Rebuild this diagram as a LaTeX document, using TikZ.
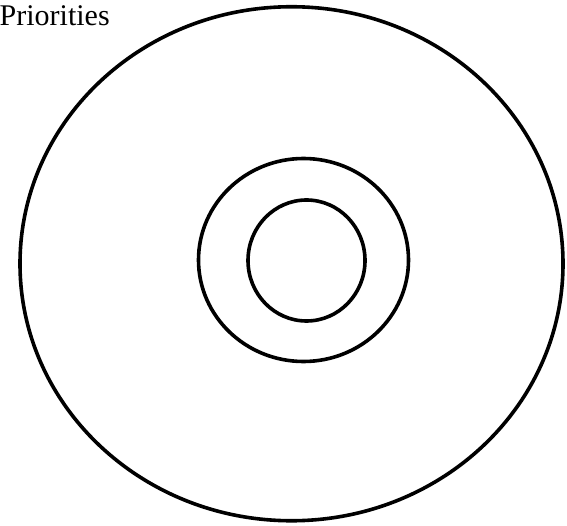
\documentclass[tikz,border=0pt]{standalone}
\usepackage{fontspec}
\setmainfont{Liberation Serif}
\usetikzlibrary{shapes.geometric}
\tikzset{
  ring/.style={draw=black, line width=3.6pt, ellipse, inner sep=0pt},
  caption/.style={font=\fontsize{30}{34}\selectfont, anchor=base west, inner sep=0pt},
}
\begin{document}
\begin{tikzpicture}[x=1pt,y=-1pt]
\useasboundingbox (0,0) rectangle (567,526);

\node[ring, minimum width=543pt, minimum height=514pt] (outer) at (291.5,263.75) {};
\node[ring, minimum width=210pt, minimum height=203pt] (middle) at (303.5,260) {};
\node[ring, minimum width=117pt, minimum height=121pt] (inner) at (306.5,260.5) {};

\node[caption] (title) at (-0.5,26) {Priorities};

\end{tikzpicture}
\end{document}
